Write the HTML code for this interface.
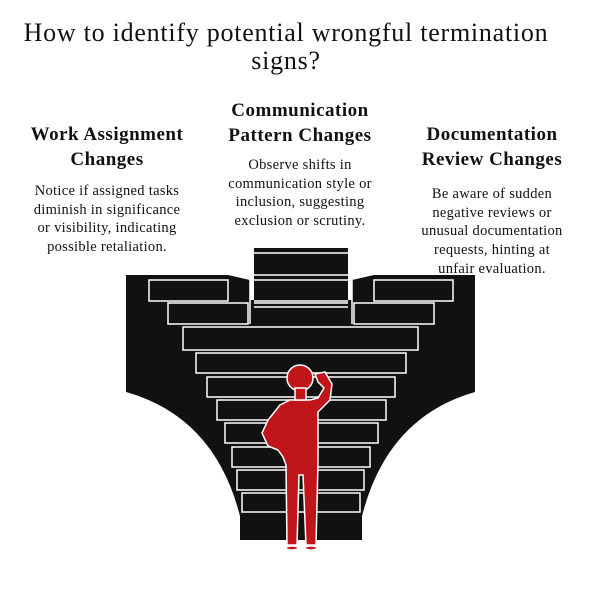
<!DOCTYPE html>
<html><head><style>
body{margin:0;width:602px;height:604px;background:#fff;position:relative;overflow:hidden;font-family:"Liberation Serif",serif;color:#111}
.t{position:absolute;text-align:center;white-space:nowrap}
.title{left:-15px;width:602px;top:19px;font-size:26px;line-height:28px;letter-spacing:0.75px}
.h{font-size:19px;line-height:25px;font-weight:bold;letter-spacing:0.5px}
.b{font-size:14.5px;line-height:18.7px;letter-spacing:0.3px}
</style></head><body>
<div class="t title">How to identify potential wrongful termination<br>signs?</div>
<div class="t h" style="left:7px;width:200px;top:122px">Work Assignment<br>Changes</div>
<div class="t b" style="left:7px;width:200px;top:182px">Notice if assigned tasks<br>diminish in significance<br>or visibility, indicating<br>possible retaliation.</div>
<div class="t h" style="left:200px;width:200px;top:98px">Communication<br>Pattern Changes</div>
<div class="t b" style="left:200px;width:200px;top:156px">Observe shifts in<br>communication style or<br>inclusion, suggesting<br>exclusion or scrutiny.</div>
<div class="t h" style="left:392px;width:200px;top:122px">Documentation<br>Review Changes</div>
<div class="t b" style="left:392px;width:200px;top:185px">Be aware of sudden<br>negative reviews or<br>unusual documentation<br>requests, hinting at<br>unfair evaluation.</div>
<svg width="602" height="604" style="position:absolute;left:0;top:0">
<path d="M126 275 L228 275 L250 280 L250 540 L245 540 Q225 420 126 392 Z" fill="#111"/>
<path d="M475 275 L374 275 L352 280 L352 540 L357 540 Q377 420 475 392 Z" fill="#111"/>
<rect x="240" y="300" width="122" height="240" fill="#111"/>
<rect x="254" y="248" width="94" height="77" fill="#111"/>
<g stroke="#fff" stroke-width="1.5" fill="none">
<line x1="254" y1="253" x2="348" y2="253"/>
<line x1="254" y1="275" x2="348" y2="275"/>
<line x1="254" y1="280" x2="348" y2="280"/>
<line x1="254" y1="301" x2="348" y2="301"/>
<line x1="254" y1="303" x2="348" y2="303"/>
<line x1="254" y1="307" x2="348" y2="307"/>
<rect x="149" y="280" width="79" height="21"/>
<rect x="374" y="280" width="79" height="21"/>
<rect x="168" y="303" width="80" height="21"/>
<rect x="354" y="303" width="80" height="21"/>
<line x1="250" y1="324" x2="250" y2="280"/>
<line x1="352" y1="324" x2="352" y2="280"/>
<rect x="183" y="327" width="235" height="23"/>
<rect x="196" y="353" width="210" height="20"/>
<rect x="207" y="377" width="188" height="20"/>
<rect x="217" y="400" width="169" height="20"/>
<rect x="225" y="423" width="153" height="20"/>
<rect x="232" y="447" width="138" height="20"/>
<rect x="237" y="470" width="127" height="20"/>
<rect x="242" y="493" width="118" height="19"/>
</g>
<g fill="#c0161b" stroke="#fff" stroke-width="1.5">
<path d="M290 400 L280 405 L268 420 L262 433 L268 446 L278 450 L283 457 L286 465 L287 545 L297 545 L299 475 L303 475 L306 545 L316 545 L318 462 L318 412 L330 400 L332 384 L325 372 L315 374 L318 382 L324 388 L318 398 L310 400 Z"/>
<circle cx="300" cy="378" r="13"/>
<rect x="295" y="388" width="11" height="12"/>
<ellipse cx="292" cy="548" rx="6" ry="2"/>
<ellipse cx="311" cy="548" rx="6" ry="2"/>
</g>
</svg>
</body></html>
